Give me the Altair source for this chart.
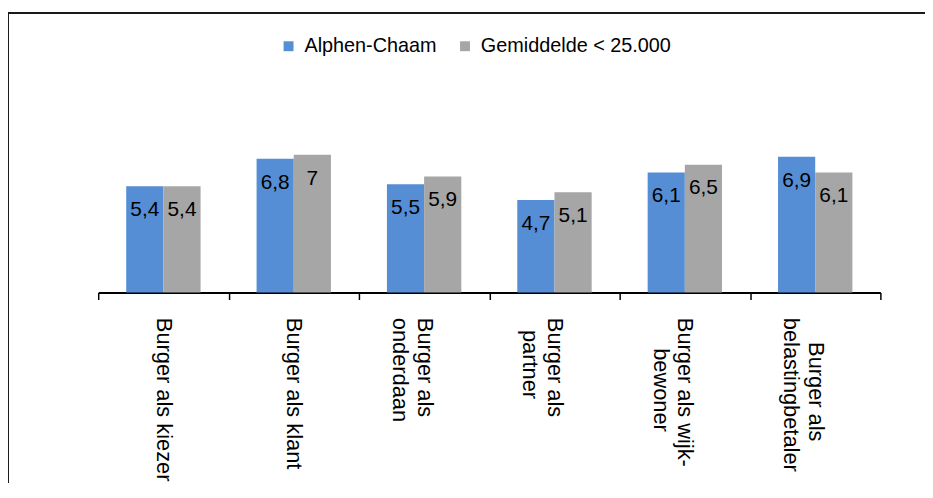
import altair as alt
import pandas as pd

# ---- data ----
category_lines = [
    ["Burger als kiezer"],
    ["Burger als klant"],
    ["Burger als", "onderdaan"],
    ["Burger als", "partner"],
    ["Burger als wijk-", "bewoner"],
    ["Burger als", "belastingbetaler"],
]
series = ["Alphen-Chaam", "Gemiddelde < 25.000"]
alphen = [5.4, 6.8, 5.5, 4.7, 6.1, 6.9]
gemiddelde = [5.4, 7.0, 5.9, 5.1, 6.5, 6.1]
colors = ["#558ED5", "#A6A6A6"]

FONT = "Liberation Sans"

# approximate Arial advance widths (per 1000 em) to centre the lines of a wrapped label
_W = {" ": 278, "B": 667, "a": 556, "b": 556, "d": 556, "e": 556, "g": 556, "i": 222,
      "j": 222, "k": 500, "l": 222, "n": 556, "o": 556, "p": 556, "r": 333, "s": 500,
      "t": 278, "u": 556, "w": 722, "z": 500, "-": 333}


def _width(s):
    return sum(_W.get(c, 556) for c in s)


def centred(lines):
    longest = max(_width(l) for l in lines)
    out = []
    for l in lines:
        n = round((longest - _width(l)) / 2 / 278)
        # zero-width space keeps the no-break spaces from being trimmed
        out.append(("\u200b" + "\u00a0" * n if n else "") + l)
    return "|".join(out)


cat_keys = [centred(l) for l in category_lines]

rows = []
for i, k in enumerate(cat_keys):
    rows.append({"cat": k, "series": series[0], "value": alphen[i]})
    rows.append({"cat": k, "series": series[1], "value": gemiddelde[i]})
df = pd.DataFrame(rows)

x_enc = alt.X(
    "cat:N",
    sort=cat_keys,
    title=None,
    scale=alt.Scale(paddingInner=0, paddingOuter=0),
    axis=alt.Axis(
        labelExpr="split(datum.label, '|')",
        labelAngle=90,
        labelAlign="left",
        labelBaseline="middle",
        labelFont=FONT,
        labelFontSize=22,
        labelColor="#000000",
        labelLineHeight=25,
        labelPadding=18,
        labelLimit=0,
        tickBand="extent",
        tickSize=7,
        tickWidth=1.5,
        tickColor="#000000",
        domainColor="#000000",
        domainWidth=2,
        grid=False,
    ),
)
xoff = alt.XOffset("series:N", sort=series,
                   scale=alt.Scale(paddingInner=0, paddingOuter=0.753))
y_enc = alt.Y("value:Q", scale=alt.Scale(domain=[0, 10]), axis=None)

base = alt.Chart(df)

bars = base.mark_bar().encode(
    x=x_enc,
    xOffset=xoff,
    y=y_enc,
    color=alt.Color(
        "series:N",
        sort=series,
        scale=alt.Scale(domain=series, range=colors),
        legend=alt.Legend(
            title=None,
            orient="none",
            direction="horizontal",
            legendX=182,
            legendY=-60,
            symbolType="square",
            symbolSize=100,
            symbolStrokeWidth=0,
            labelFont=FONT,
            labelFontSize=20,
            labelColor="#000000",
            labelOffset=6,
            labelLimit=0,
            columnPadding=18,
            padding=0,
        ),
    ),
)

labels = base.transform_calculate(
    lbl="replace(format(datum.value, '.1~f'), '.', ',')"
).mark_text(
    font=FONT, fontSize=21, color="#000000", baseline="middle", align="center", dy=24
).encode(
    x=alt.X("cat:N", sort=cat_keys),
    xOffset=alt.XOffset("series:N", sort=series),
    y=alt.Y("value:Q"),
    text="lbl:N",
)

frame_df = pd.DataFrame({"a": [0]})
top_line = alt.Chart(frame_df).mark_rule(color="#1a1a1a", strokeWidth=2).encode(
    x=alt.value(-91), x2=alt.value(840), y=alt.value(-83.5)
)
left_line = alt.Chart(frame_df).mark_rule(color="#1a1a1a", strokeWidth=2).encode(
    x=alt.value(-91), y=alt.value(-84.5), y2=alt.value(420)
)

chart = alt.layer(bars, labels, top_line, left_line).properties(
    width=789,
    height=198.5,
    background="white",
    autosize=alt.AutoSizeParams(type="none"),
    padding={"left": 91, "top": 86.5, "right": 45, "bottom": 190},
).configure_view(strokeWidth=0, stroke="transparent")

chart.save("out.html", embed_options={"renderer": "svg", "actions": False})
